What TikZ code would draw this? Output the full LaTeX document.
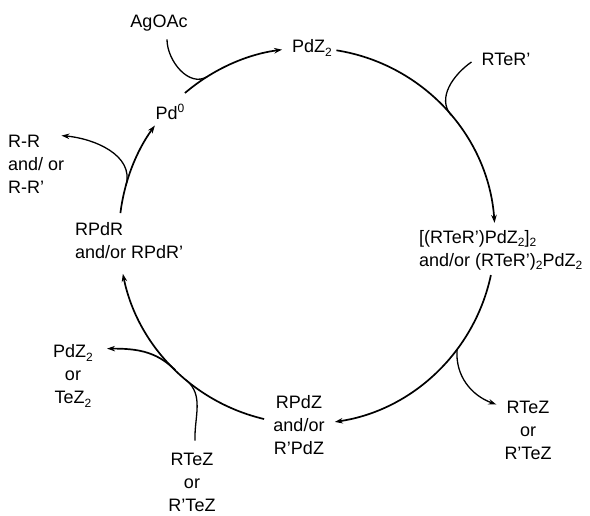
\documentclass[tikz,border=0pt]{standalone}
\usepackage{fontspec}
\setmainfont{Liberation Sans}
\usetikzlibrary{arrows.meta,calc}
\newcommand\lsub[1]{\raisebox{-0.35ex}{\fontsize{12}{12}\selectfont #1}}
\newcommand\lsup[1]{\raisebox{0.75ex}{\fontsize{12}{12}\selectfont #1}}
\begin{document}
\begin{tikzpicture}[x=1pt,y=1pt,
  lbl/.style={font=\fontsize{18}{23}\selectfont, inner sep=0pt, align=center},
  tip/.style={-{Stealth[length=8pt,width=5.5pt]}},
  main/.style={line width=1.7pt},
  side/.style={line width=1.3pt}]
\useasboundingbox (0,0) rectangle (590,516);
\coordinate (C) at (307,280);
% labels
\node[lbl] (agoac) at (159,493) {AgOAc};
\node[lbl] (pd0) at (170,404) {Pd\lsup{0}};
\node[lbl] (pdz2) at (312,468) {PdZ\lsub{2}};
\node[lbl] (rter) at (506,457) {RTeR'};
\node[lbl, anchor=west, align=left] (cplx) at (419,266) {[(RTeR')PdZ\lsub{2}]\lsub{2}\\and/or (RTeR')\lsub{2}PdZ\lsub{2}};
\node[lbl] (rtez1) at (528,86) {RTeZ\\or\\R'TeZ};
\node[lbl] (rpdz) at (299,91) {RPdZ\\and/or\\R'PdZ};
\node[lbl] (rtez2) at (192,34) {RTeZ\\or\\R'TeZ};
\node[lbl] (pdz2b) at (73,140) {PdZ\lsub{2}\\or\\TeZ\lsub{2}};
\node[lbl, anchor=west, align=left] (rpdr) at (75,275) {RPdR\\and/or RPdR'};
\node[lbl, anchor=west, align=left] (rr) at (8,352) {R-R\\and/ or\\R-R'};
% points on the cycle
\coordinate (a1) at ($(C)+(81:188)$);
\coordinate (a2) at ($(C)+(-12:188)$);
\coordinate (a3) at ($(C)+(256.8:188)$);
\coordinate (a4) at ($(C)+(173:188)$);
\coordinate (a5) at ($(C)+(130.5:188)$);
\coordinate (m1) at ($(C)+(122:188)$);
\coordinate (m2) at ($(C)+(40:188)$);
\coordinate (m3) at ($(C)+(-37:188)$);
\coordinate (m4) at ($(C)+(230:188)$);
\coordinate (m5) at ($(C)+(225.5:188)$);
\coordinate (m6) at ($(C)+(164.4:188)$);
% cycle arcs
\draw[main,tip] (a1) arc[start angle=81, end angle=4, radius=188];
\draw[main,tip] (a2) arc[start angle=-12, end angle=-81.5, radius=188];
\draw[main,tip] (a3) arc[start angle=256.8, end angle=191.6, radius=188];
\draw[main,tip] (a4) arc[start angle=173, end angle=144, radius=188];
\draw[main,tip] (a5) arc[start angle=130.5, end angle=97.6, radius=188];
% side branches
\draw[side] ([xshift=8pt,yshift=-8pt]agoac.south) to[out=-90,in=212] (m1);
\draw[side] ([xshift=-10pt,yshift=-3pt]rter.west) to[out=215,in=130] (m2);
\draw[side,tip] (m3) to[out=-95,in=160] ([xshift=-8pt,yshift=-4pt]rtez1.north west);
\draw[side] ([xshift=3pt,yshift=12pt]rtez2.north) to[out=92,in=-40] (m4);
\draw[main,tip] (m5) to[out=135,in=0] ([xshift=14pt,yshift=-4pt]pdz2b.north east);
\draw[side,tip] (m6) to[out=74,in=-5] ([xshift=-3pt,yshift=-1pt]rr.north east);
\end{tikzpicture}
\end{document}
